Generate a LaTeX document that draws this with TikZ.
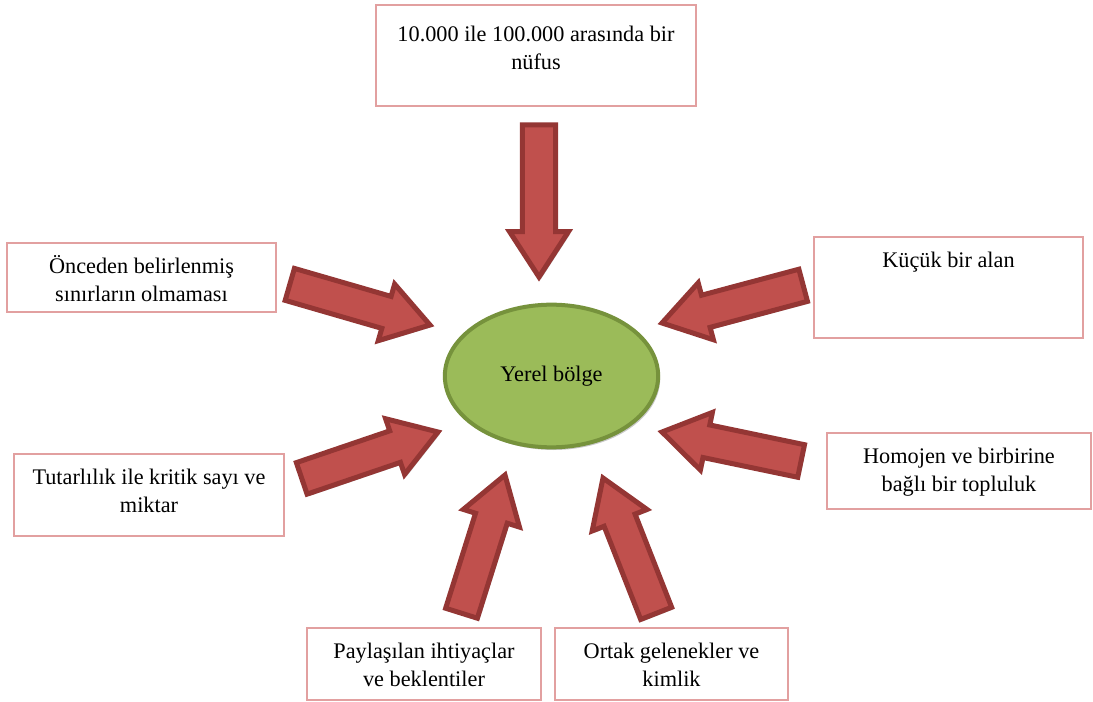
\documentclass[tikz,border=0pt]{standalone}
\usepackage{fontspec}
\setmainfont{Liberation Serif}
\usepackage{tikz}
\usetikzlibrary{shapes.geometric,shapes.arrows,shadows,calc}

\definecolor{boxline}{HTML}{E2A0A0}
\definecolor{arrowfill}{HTML}{C0504D}
\definecolor{arrowline}{HTML}{943634}
\definecolor{ovalfill}{HTML}{9BBB59}
\definecolor{ovalline}{HTML}{76923C}

% block arrow from a tail coordinate to a tip coordinate
\newcommand{\fatarrow}[2]{%
	\path let \p1=($(#2)-(#1)$), \n1={atan2(\y1,\x1)}, \n2={veclen(\x1,\y1)-3.75pt} in
		node at ($(#1)!1.875pt!(#2)$) [bigarrow, anchor=tail, minimum height=\n2, rotate=\n1] {};}

\begin{document}
\begin{tikzpicture}[x=0.75pt, y=-0.75pt,
	infobox/.style={rectangle, draw=boxline, line width=1pt, inner sep=0pt},
	infotext/.style={anchor=north, align=center, inner sep=0pt, font=\fontsize{16.7}{21}\selectfont},
	bigarrow/.style={single arrow, draw=arrowline, fill=arrowfill, line width=3.75pt,
		inner xsep=0pt, inner ysep=10.6pt, single arrow head extend=9.6pt, single arrow tip angle=66,
		drop shadow={shadow xshift=1.5pt, shadow yshift=-1.5pt, fill=gray!70, opacity=0.7}}]
	\useasboundingbox (0,0) rectangle (1093,702);

	% centre
	\node (yerel) at (551.5,376) [ellipse, draw=ovalline, fill=ovalfill, line width=3pt, minimum width=160pt, minimum height=107pt, inner sep=0pt,
		drop shadow={shadow xshift=1.5pt, shadow yshift=-2pt, fill=gray!60, opacity=0.7}, font=\fontsize{16.7}{21}\selectfont] {Yerel bölge};

	% boxes
	\node (nufus) at (536,55.5) [infobox, minimum width=240pt, minimum height=75.75pt] {};
		\node (nufustext) at ([yshift=-13pt]nufus.north) [infotext] {\strut 10.000 ile 100.000 arasında bir\\nüfus};
	\node (sinir) at (141.5,277.5) [infobox, minimum width=201.75pt, minimum height=51.75pt] {};
		\node (sinirtext) at ([yshift=-8.5pt]sinir.north) [infotext] {\strut Önceden belirlenmiş\\sınırların olmaması};
	\node (kritik) at (149,495) [infobox, minimum width=202.5pt, minimum height=61.5pt] {};
		\node (kritiktext) at ([yshift=-8.5pt]kritik.north) [infotext] {\strut Tutarlılık ile kritik sayı ve\\miktar};
	\node (alan) at (948.5,287.5) [infobox, minimum width=201.75pt, minimum height=75.75pt] {};
		\node (alantext) at ([yshift=-8.5pt]alan.north) [infotext] {\strut Küçük bir alan};
	\node (topluluk) at (959,471) [infobox, minimum width=198pt, minimum height=57pt] {};
		\node (topluluktext) at ([yshift=-8.5pt]topluluk.north) [infotext] {\strut Homojen ve birbirine\\bağlı bir topluluk};
	\node (ihtiyac) at (424,664) [infobox, minimum width=175.5pt, minimum height=54pt] {};
		\node (ihtiyactext) at ([yshift=-8.5pt]ihtiyac.north) [infotext] {\strut Paylaşılan ihtiyaçlar\\ve beklentiler};
	\node (gelenek) at (671.5,664) [infobox, minimum width=174.75pt, minimum height=54pt] {};
		\node (gelenektext) at ([yshift=-8.5pt]gelenek.north) [infotext] {\strut Ortak gelenekler ve\\kimlik};

	% arrow ends
	\coordinate (t1) at (539,120);	\coordinate (h1) at (539,277);
	\coordinate (t2) at (285,283);	\coordinate (h2) at (430,325);
	\coordinate (t3) at (297,480);	\coordinate (h3) at (438,432);
	\coordinate (t4) at (808,284);	\coordinate (h4) at (662,323);
	\coordinate (t5) at (806,462);	\coordinate (h5) at (662,432);
	\coordinate (t6) at (460,618);	\coordinate (h6) at (505,475);
	\coordinate (t7) at (658,618);	\coordinate (h7) at (603,478);

	\fatarrow{t1}{h1}
	\fatarrow{t2}{h2}
	\fatarrow{t3}{h3}
	\fatarrow{t4}{h4}
	\fatarrow{t5}{h5}
	\fatarrow{t6}{h6}
	\fatarrow{t7}{h7}
\end{tikzpicture}
\end{document}
